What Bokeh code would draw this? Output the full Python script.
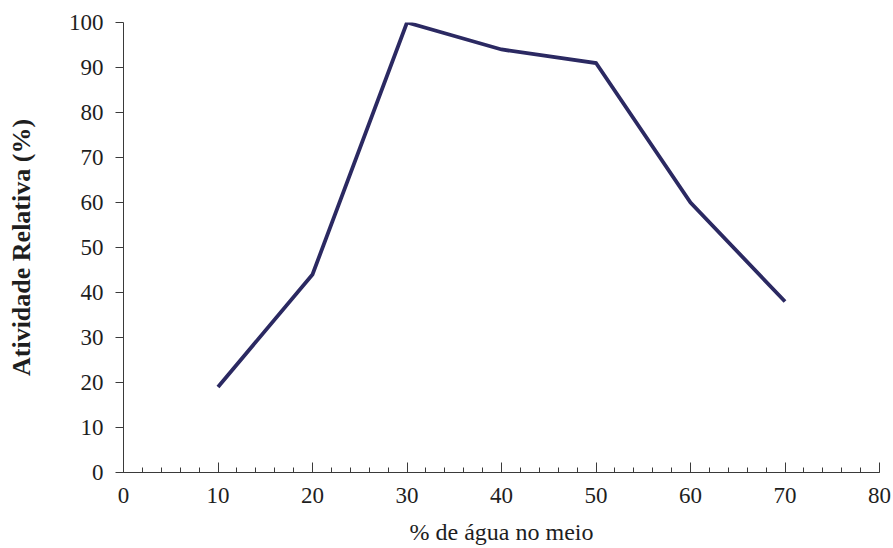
from bokeh.plotting import figure
from bokeh.models import Range1d, SingleIntervalTicker
from bokeh.embed import file_html
from bokeh.resources import INLINE

agua = [10, 20, 30, 40, 50, 60, 70]
atividade = [19, 44, 100, 94, 91, 60, 38]

p = figure(width=893, height=548, output_backend="svg", toolbar_location=None,
           x_range=Range1d(0, 80), y_range=Range1d(0, 100),
           min_border_left=123, min_border_right=14, min_border_top=22, min_border_bottom=76)
p.outline_line_color = None
p.xgrid.visible = False
p.ygrid.visible = False

p.line(agua, atividade, line_color="#2b2962", line_width=3.8, line_join="miter")

serif = "Liberation Serif"
txt = "#1e1e1e"
axc = "#3a3a3a"
xa = p.xaxis[0]
xa.ticker = SingleIntervalTicker(interval=10, num_minor_ticks=5)
xa.major_tick_in = 10
xa.major_tick_out = 0
xa.minor_tick_in = 5
xa.minor_tick_out = 0
xa.axis_line_color = axc
xa.major_tick_line_color = axc
xa.minor_tick_line_color = axc
xa.major_label_text_font = serif
xa.major_label_text_font_size = "23px"
xa.major_label_text_color = txt
xa.major_label_standoff = 15
xa.axis_label = "% de água no meio"
xa.axis_label_text_font = serif
xa.axis_label_text_font_size = "24px"
xa.axis_label_text_font_style = "normal"
xa.axis_label_text_color = txt
xa.axis_label_standoff = 13

ya = p.yaxis[0]
ya.ticker = SingleIntervalTicker(interval=10, num_minor_ticks=0)
ya.major_tick_in = 0
ya.major_tick_out = 8
ya.minor_tick_line_color = None
ya.axis_line_color = axc
ya.major_tick_line_color = axc
ya.major_label_text_font = serif
ya.major_label_text_font_size = "23px"
ya.major_label_text_color = txt
ya.major_label_standoff = 12
ya.axis_label = "Atividade Relativa (%)"
ya.axis_label_text_font = serif
ya.axis_label_text_font_size = "26px"
ya.axis_label_text_font_style = "bold"
ya.axis_label_text_color = txt
ya.axis_label_standoff = 30

open("out.html", "w").write(file_html(p, INLINE))
